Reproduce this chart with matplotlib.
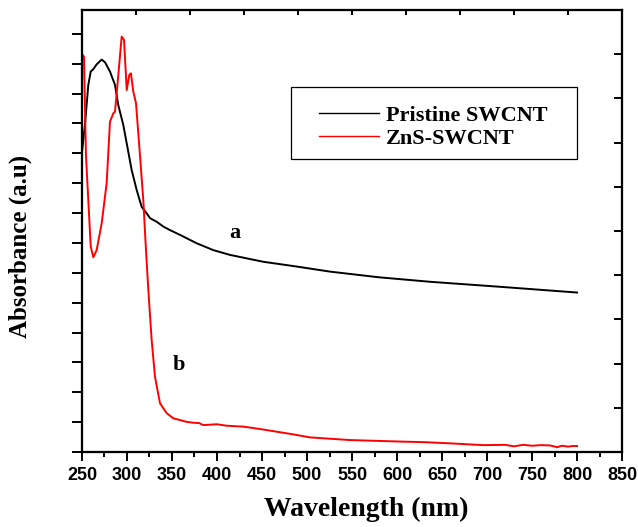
import numpy as np
import matplotlib
matplotlib.use("Agg")
import matplotlib.pyplot as plt
from matplotlib.patches import Rectangle
from matplotlib.ticker import MultipleLocator, FixedLocator, NullFormatter

# UV-vis absorbance spectra (arbitrary units)
wl_pristine = [250, 253.3, 257, 259.7, 262.6, 266.3, 271.9, 275.6, 281.1, 286.7,
               290.3, 295.9, 301.4, 305.2, 310.8, 316.3, 321.9, 325.6, 333, 340.3,
               347.8, 358.9, 377.4, 395.9, 414.4, 451.4, 488.6, 525.6, 580, 636.7,
               710.8, 800]
abs_pristine = [1.005, 1.095, 1.229, 1.274, 1.282, 1.298, 1.314, 1.305, 1.274, 1.229,
                1.162, 1.095, 1.006, 0.944, 0.877, 0.821, 0.799, 0.783, 0.771, 0.755,
                0.743, 0.727, 0.699, 0.676, 0.660, 0.637, 0.621, 0.604, 0.585, 0.570,
                0.554, 0.534]

wl_zns = [250.3, 252.2, 254.4, 257, 259.7, 262.6, 266.3, 271.9, 277.4, 281.1,
          284.8, 286.7, 289.7, 294.1, 296.7, 299.7, 302.6, 304.4, 307, 310,
          314.4, 318.1, 321.1, 323.7, 327.4, 331.1, 336.7, 344.1, 351.4, 366.3,
          373.7, 380, 384.8, 399.7, 410.8, 429.2, 447.8, 466.3, 484.8, 503.3,
          547.8, 603.3, 630, 658.9, 695.9, 720, 730, 740, 750, 760,
          770, 778, 783, 790, 795, 800]
abs_zns = [1.332, 1.324, 0.995, 0.844, 0.688, 0.652, 0.676, 0.766, 0.900, 1.106,
           1.134, 1.140, 1.240, 1.391, 1.380, 1.212, 1.263, 1.268, 1.207, 1.168,
           0.995, 0.844, 0.676, 0.543, 0.375, 0.252, 0.163, 0.130, 0.113, 0.101,
           0.098, 0.097, 0.090, 0.093, 0.088, 0.085, 0.077, 0.068, 0.059, 0.049,
           0.040, 0.035, 0.033, 0.029, 0.023, 0.024, 0.019, 0.024, 0.021, 0.023,
           0.022, 0.016, 0.021, 0.018, 0.020, 0.020]

serif = "Liberation Serif"
plt.rcParams["font.family"] = "Liberation Sans"
plt.rcParams["font.weight"] = "bold"

fig = plt.figure(figsize=(6.38, 5.27), dpi=100)
ax = fig.add_axes([0.1285, 0.1423, 0.8465, 0.8387])

ax.plot(wl_pristine, abs_pristine, color="black", lw=1.4, label="Pristine SWCNT")
ax.plot(wl_zns, abs_zns, color="#ff0000", lw=1.4, label="ZnS-SWCNT")

ax.set_xlim(250, 850)
ax.set_ylim(0, 1.48)

ax.xaxis.set_major_locator(MultipleLocator(50))
ax.xaxis.set_minor_locator(MultipleLocator(25))
ax.yaxis.set_major_locator(MultipleLocator(0.1))
ax.yaxis.set_major_formatter(NullFormatter())
ax.tick_params(axis="x", which="major", direction="out", length=6.5, width=1.4,
               labelsize=13, pad=4)
ax.tick_params(axis="x", which="minor", direction="out", length=3.6, width=1.4)
ax.tick_params(axis="y", which="major", direction="out", length=7.2, width=1.4)
for lbl in ax.get_xticklabels():
    lbl.set_fontweight("bold")

for sp in ax.spines.values():
    sp.set_linewidth(1.5)

# secondary axes carry only the inward ticks on top and right
top = ax.twiny()
top.set_xlim(ax.get_xlim())
top.xaxis.set_major_locator(FixedLocator(np.arange(250, 851, 60)))
top.tick_params(axis="x", direction="in", length=3.6, width=1.4, labeltop=False)
right = ax.twinx()
right.set_ylim(ax.get_ylim())
right.yaxis.set_major_locator(FixedLocator(np.linspace(0, 1.48, 11)))
right.tick_params(axis="y", direction="in", length=5.8, width=1.4, labelright=False)
for a in (top, right):
    for sp in a.spines.values():
        sp.set_linewidth(1.5)

ax.set_xlabel("Wavelength (nm)", fontfamily=serif, fontweight="bold", fontsize=20,
              va="center")
ax.xaxis.set_label_coords(0.526, -0.131)
ax.set_ylabel("Absorbance (a.u)", fontfamily=serif, fontweight="bold", fontsize=18,
              va="center")
ax.yaxis.set_label_coords(-0.115, 0.465)

ax.text(420, 0.733, "a", fontfamily=serif, fontweight="bold", fontsize=16,
        ha="center", va="center")
ax.text(357.8, 0.291, "b", fontfamily=serif, fontweight="bold", fontsize=16,
        ha="center", va="center")

leg = ax.legend(loc="center left", bbox_to_anchor=(319 / 638, 1 - 127 / 527),
                bbox_transform=fig.transFigure, frameon=False, borderpad=0,
                borderaxespad=0, handlelength=2.7, handletextpad=0.3,
                labelspacing=0.12, prop={"family": serif, "weight": "bold", "size": 16})
for ln in leg.get_lines():
    ln.set_linewidth(1.0)
fig.patches.append(Rectangle((291 / 638, 1 - 159 / 527), 286 / 638, 72 / 527,
                             transform=fig.transFigure, fill=False,
                             edgecolor="black", lw=0.9))

fig.savefig("out.png", dpi=100)
